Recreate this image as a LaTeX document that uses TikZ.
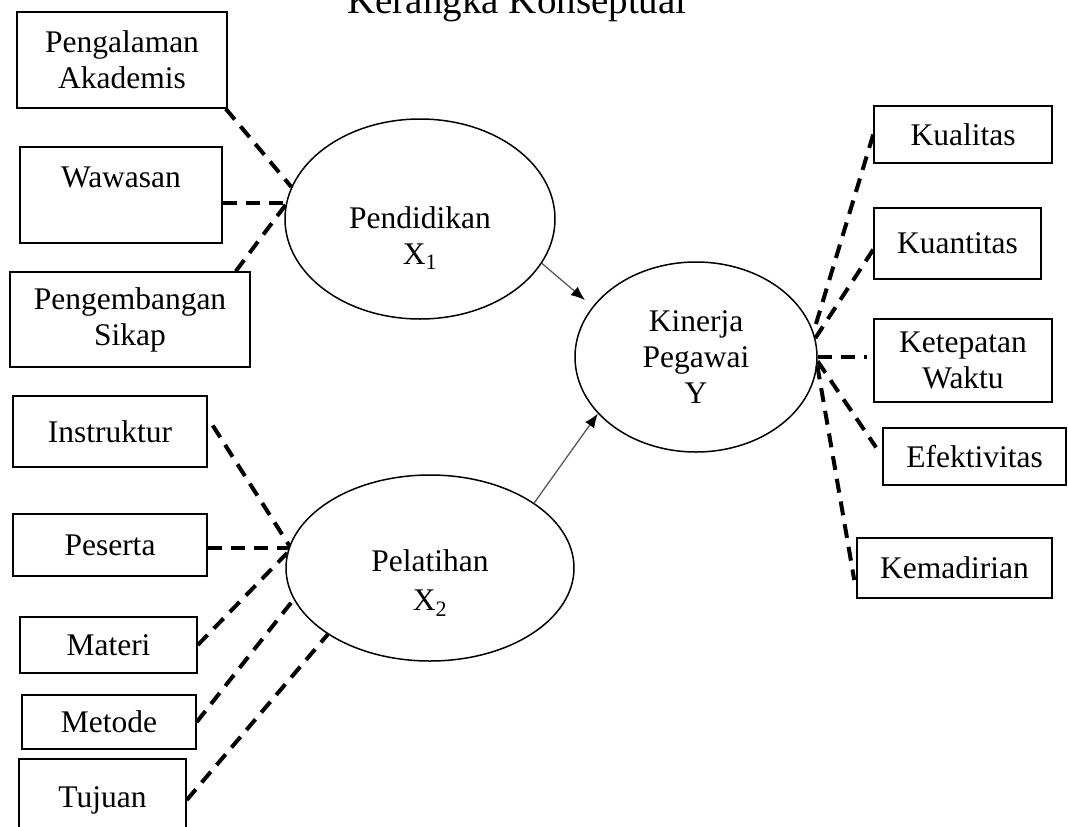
\documentclass[tikz,border=0pt]{standalone}
\usepackage{fontspec}
\setmainfont{Liberation Serif}
\usetikzlibrary{shapes.geometric, arrows.meta, calc}

\tikzset{
    indbox/.style={draw, line width=1.5pt, rectangle, align=center, inner sep=0pt, font=\fontsize{31.5}{36}\selectfont},
    latent/.style={draw, line width=1.5pt, ellipse, align=center, inner sep=0pt, font=\fontsize{31.5}{36}\selectfont},
    link/.style={line width=4pt, dash pattern=on 14pt off 9pt},
    rel/.style={draw=black!65, line width=1.3pt, -{Latex[length=14pt,width=11pt,color=black]}}
}

\begin{document}
\begin{tikzpicture}[x=1pt, y=-1pt]
    \useasboundingbox (0,0) rectangle (1068,827);
    % Title
    \node[anchor=base, font=\fontsize{39}{44}\selectfont] (judul) at (517,13) {Kerangka Konseptual};

    % Latent variables
    \node[latent, minimum width=270, minimum height=200] (pend) at (420,219) {\mbox{}\\[24pt]Pendidikan\\X\textsubscript{1}};
    \node[latent, minimum width=288, minimum height=186] (pel) at (430,568) {\mbox{}\\[16pt]Pelatihan\\[3pt]X\textsubscript{2}};
    \node[latent, minimum width=242, minimum height=190] (kin) at (696,357) {Kinerja\\Pegawai\\Y};

    % Indicators of X1
    \node[indbox, minimum width=210, minimum height=96] (akad) at (122,60) {Pengalaman\\Akademis};
    \node[indbox, minimum width=202, minimum height=96] (waw) at (121,195) {Wawasan\\\mbox{}};
    \node[indbox, minimum width=240, minimum height=95] (sikap) at (130,319.5) {Pengembangan\\Sikap};

    % Indicators of X2
    \node[indbox, minimum width=194, minimum height=71] (instr) at (110,431.5) {Instruktur};
    \node[indbox, minimum width=194, minimum height=62] (pes) at (110,545) {Peserta};
    \node[indbox, minimum width=177, minimum height=56] (mat) at (108.5,645) {Materi};
    \node[indbox, minimum width=174, minimum height=54] (met) at (109,722) {Metode};
    \node[indbox, minimum width=167, minimum height=82] (tuj) at (102.5,800) {Tujuan};

    % Indicators of Y
    \node[indbox, minimum width=178, minimum height=57] (kual) at (963,134.5) {Kualitas};
    \node[indbox, minimum width=167, minimum height=71] (kuan) at (957.5,243.5) {Kuantitas};
    \node[indbox, minimum width=178, minimum height=83] (ket) at (963,360.5) {Ketepatan\\Waktu};
    \node[indbox, minimum width=183, minimum height=57] (efek) at (974.5,456.5) {Efektivitas};
    \node[indbox, minimum width=195, minimum height=60] (kem) at (954.5,568) {Kemadirian};

    % Dashed links
    \draw[link] ($(akad.south east)+(-2,0)$) -- (pend.166);
    \draw[link] (waw.east |- pend.173) -- (pend.173);
    \draw[link] ($(sikap.north east)+(-15,0)$) -- (pend.174);

    \draw[link] ($(instr.east)+(5,-6)$) -- (pel.171);
    \draw[link] (pes.east |- pel.172) -- (pel.172);
    \draw[link] (mat.east) -- (pel.174);
    \draw[link] (met.east) -- (pel.193);
    \draw[link] (tuj.east) -- (pel.213);

    \draw[link] (kual.west) -- (kin.12);
    \draw[link] ($(kuan.west)+(0,6)$) -- (kin.9);
    \draw[link, shorten >=6pt] (kin.east) -- (kin.east -| ket.west);
    \draw[link, shorten >=11pt] (kin.-2) -- (efek.west);
    \draw[link] (kin.-4) -- ($(kem.west)+(-2,12)$);

    % Paths
    \draw[rel, shorten >=10pt] (pend.-20) -- (kin.154);
    \draw[rel] (pel.32) -- (kin.210);
\end{tikzpicture}
\end{document}
